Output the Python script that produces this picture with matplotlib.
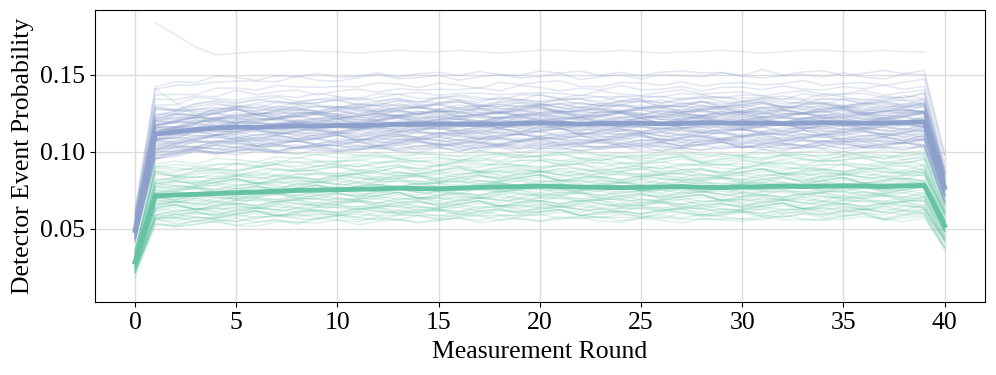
import numpy as np
import matplotlib
matplotlib.use('Agg')
from matplotlib import pyplot as plt

plt.rcParams['font.family'] = ['Liberation Serif', 'DejaVu Serif']

rounds = np.arange(41)

# detector-averaged curves
blue_mean = [0.049, 0.1115, 0.113, 0.1145, 0.1155, 0.116, 0.116, 0.1165, 0.117, 0.1168,
             0.1172, 0.117, 0.1175, 0.118, 0.1178, 0.1182, 0.118, 0.1178, 0.1182, 0.1185,
             0.1188, 0.1185, 0.118, 0.1183, 0.1185, 0.1187, 0.1182, 0.1185, 0.119, 0.1188,
             0.1185, 0.1188, 0.1183, 0.1187, 0.119, 0.1188, 0.1185, 0.1187, 0.119, 0.1195, 0.077]
green_mean = [0.0285, 0.0715, 0.072, 0.0725, 0.073, 0.0735, 0.074, 0.0745, 0.075, 0.0752,
              0.0755, 0.0758, 0.076, 0.0765, 0.0762, 0.076, 0.0765, 0.077, 0.0772, 0.0775,
              0.0778, 0.0775, 0.0772, 0.077, 0.0768, 0.077, 0.0772, 0.0775, 0.077, 0.0768,
              0.0772, 0.0775, 0.0778, 0.0775, 0.0778, 0.078, 0.0778, 0.0775, 0.078, 0.0782, 0.0522]

# plateau level of each individual detector (estimated from the spread of thin lines)
blue_levels = [0.150, 0.148, 0.143, 0.140, 0.137, 0.135, 0.134, 0.133, 0.132, 0.131,
               0.130, 0.130, 0.129, 0.129, 0.128, 0.128, 0.127, 0.127, 0.126, 0.126,
               0.125, 0.125, 0.125, 0.124, 0.124, 0.124, 0.123, 0.123, 0.122, 0.122,
               0.122, 0.121, 0.121, 0.120, 0.120, 0.120, 0.119, 0.119, 0.118, 0.118,
               0.118, 0.117, 0.117, 0.116, 0.116, 0.116, 0.115, 0.115, 0.114, 0.114,
               0.113, 0.113, 0.112, 0.112, 0.111, 0.111, 0.110, 0.110, 0.109, 0.109,
               0.108, 0.108, 0.107, 0.107, 0.106, 0.106, 0.105, 0.105, 0.104, 0.104,
               0.103, 0.103, 0.102, 0.102, 0.101]
green_levels = [0.098, 0.096, 0.095, 0.094, 0.093, 0.092, 0.091, 0.090, 0.089, 0.088,
                0.087, 0.086, 0.086, 0.085, 0.084, 0.084, 0.083, 0.082, 0.082, 0.081,
                0.080, 0.080, 0.079, 0.078, 0.078, 0.077, 0.076, 0.076, 0.075, 0.074,
                0.074, 0.073, 0.072, 0.072, 0.071, 0.070, 0.070, 0.069, 0.068, 0.068,
                0.067, 0.066, 0.066, 0.065, 0.064, 0.064, 0.063, 0.062, 0.062, 0.061,
                0.060, 0.060, 0.059, 0.058, 0.057, 0.056, 0.055]

# round-to-round jitter shapes seen in the thin lines (units of 1e-3)
wiggles = [
    [0, 0, 1.5, -1, 2, 0.5, -1.5, 1, -0.5, 2, -1, 0, 1.5, -2, 0.5, 1, -1, 2, -0.5, -1.5, 1,
     0, 2, -1, 0.5, -2, 1, 1.5, -0.5, 0, -1.5, 2, -1, 0.5, 1, -2, 0, 1.5, -1, 0.5, 0],
    [0, 0, -1, 2, -0.5, -1.5, 1, 2.5, -1, 0, 1, -2, 0.5, 1.5, -1, -0.5, 2, -1.5, 0, 1, -2,
     1.5, 0.5, -1, 2, 0, -1.5, 0.5, 1, -1, 2, -0.5, -2, 1, 0, 1.5, -1, 0.5, 1, -0.5, 0],
    [0, 0, 2, 0.5, -1.5, 1, 0, -2, 1.5, -0.5, 1, 2, -1, -1.5, 1, 0.5, -0.5, 1.5, -2, 0, 1,
     -1, 0.5, 2, -1.5, 0, 1, -1, 0.5, 2, -0.5, -1, 1.5, 0, -2, 1, 0.5, -1, 1.5, 0, 0],
]

# outlier detectors with missing first/last rounds
blue_outlier = [np.nan, 0.184, 0.176, 0.168, 0.163, 0.164, 0.165, 0.165, 0.166, 0.165,
                0.165, 0.164, 0.165, 0.166, 0.165, 0.165, 0.166, 0.165, 0.164, 0.165,
                0.166, 0.166, 0.165, 0.165, 0.166, 0.165, 0.164, 0.165, 0.165, 0.166,
                0.165, 0.164, 0.165, 0.166, 0.166, 0.165, 0.165, 0.166, 0.165, 0.165, np.nan]
green_outlier = [np.nan, 0.141, 0.132, 0.124, 0.117, 0.110, 0.104, 0.100, 0.099, 0.098,
                 0.099, 0.098, 0.097, 0.098, 0.099, 0.098, 0.097, 0.098, 0.099, 0.098,
                 0.097, 0.098, 0.099, 0.098, 0.097, 0.098, 0.098, 0.099, 0.098, 0.097,
                 0.098, 0.099, 0.098, 0.097, 0.098, 0.098, 0.099, 0.098, 0.097, 0.098, np.nan]

blue = '#8da0cb'
green = '#66c2a5'

fig, ax = plt.subplots(figsize=(9.96, 3.75), dpi=100)

def draw_group(mean, levels, color, alpha):
	mean = np.array(mean)
	plateau = mean[1:40].mean()
	for i, lev in enumerate(levels):
		w = np.roll(np.array(wiggles[i % 3]), 5*i) * 1e-3
		y = lev * mean / plateau + w
		ax.plot(rounds, y, color=color, alpha=alpha, lw=1.1, zorder=2)

draw_group(blue_mean, blue_levels, blue, 0.25)
ax.plot(rounds, blue_outlier, color=blue, alpha=0.22, lw=1.1, zorder=2)
draw_group(green_mean, green_levels, green, 0.22)
ax.plot(rounds, green_outlier, color=green, alpha=0.22, lw=1.1, zorder=2)

ax.plot(rounds, blue_mean, color=blue, lw=3.5, zorder=4)
ax.plot(rounds, green_mean, color=green, lw=3.5, zorder=4)

ax.set_xlim(-2, 42)
ax.set_ylim(0.0027, 0.192)
ax.set_xticks(range(0, 41, 5))
ax.set_yticks([0.05, 0.10, 0.15])
ax.grid(True, color='#dddddd', lw=1)
ax.set_axisbelow(True)
ax.tick_params(labelsize=18.5)
ax.set_xlabel('Measurement Round', fontsize=18.5, labelpad=5)
ax.set_ylabel('Detector Event Probability', fontsize=18.5, labelpad=4)

fig.subplots_adjust(left=0.095, right=0.989, top=0.973, bottom=0.195)
fig.savefig('out.png', dpi=100)
